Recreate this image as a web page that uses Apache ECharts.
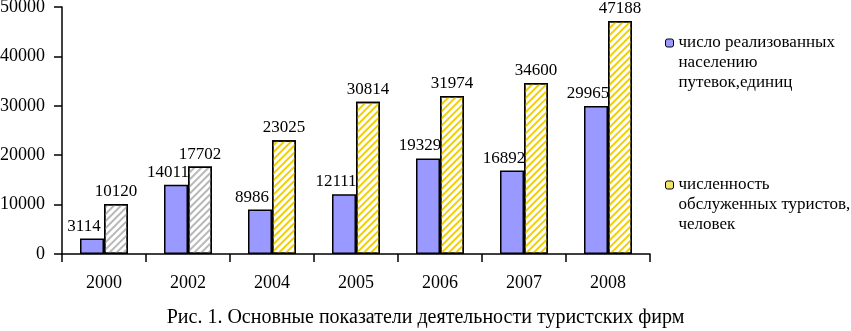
<!DOCTYPE html>
<html>
<head>
<meta charset="utf-8">
<script src="https://cdn.jsdelivr.net/npm/echarts@6/dist/echarts.min.js"></script>
<style>
  html, body { margin: 0; padding: 0; background: #fff; }
  #main { width: 851px; height: 331px; }
</style>
</head>
<body>
<div id="main"></div>
<script>
// данные
var years = ['2000', '2002', '2004', '2005', '2006', '2007', '2008'];
var putevki = [3114, 14011, 8986, 12111, 19329, 16892, 29965];
var turisty = [10120, 17702, 23025, 30814, 31974, 34600, 47188];
var seriesNames = [
    'число реализованных\nнаселению\nпутевок,единиц',
    'численность\nобслуженных туристов,\nчеловек'
];
var caption = 'Рис. 1. Основные показатели деятельности туристских фирм';

var serif = '"Liberation Serif", "DejaVu Serif", serif';

function hatch(color) {
    return {
        symbol: 'rect',
        symbolSize: 1,
        dashArrayX: [1, 0],
        dashArrayY: [2, 3],
        rotation: -Math.PI / 4,
        color: color
    };
}

function legendBox(name, top) {
    return {
        data: [name],
        orient: 'vertical',
        left: 665, top: top,
        padding: 0,
        itemWidth: 8, itemHeight: 8,
        itemStyle: { borderWidth: 1, borderColor: '#000' },
        // первая строка подписи — напротив значка
        formatter: function (n) { return '\n\n' + n; },
        textStyle: { fontFamily: serif, fontSize: 17, color: '#000', lineHeight: 20 }
    };
}

var myChart = echarts.init(document.getElementById('main'));

var option = {
    animation: false,
    title: {
        text: caption,
        left: 'center',
        top: 303,
        textStyle: { fontFamily: serif, fontSize: 20, fontWeight: 'normal', color: '#000' }
    },
    grid: { left: 62, right: 201, top: 7, bottom: 77, outerBoundsMode: 'none' },
    legend: [legendBox(seriesNames[0], -7), legendBox(seriesNames[1], 135)],
    xAxis: {
        type: 'category',
        data: years,
        axisLine: { lineStyle: { color: '#000', width: 1.5 } },
        axisTick: { show: true, length: 8, lineStyle: { color: '#000', width: 1.5 } },
        axisLabel: { color: '#000', fontFamily: serif, fontSize: 18, margin: 20 }
    },
    yAxis: {
        type: 'value',
        min: 0, max: 50000, interval: 10000,
        axisLine: { show: true, lineStyle: { color: '#000', width: 1.5 } },
        axisTick: { show: true, length: 8, lineStyle: { color: '#000', width: 1.5 } },
        splitLine: { show: false },
        axisLabel: {
            color: '#000', fontFamily: serif, fontSize: 18, margin: 17,
            formatter: function (v) { return String(v); }
        }
    },
    series: [{
        name: seriesNames[0],
        type: 'bar',
        barWidth: 24,
        barGap: '0%',
        data: putevki,
        itemStyle: { color: '#9999ff', borderColor: '#000', borderWidth: 1.5 },
        label: {
            show: true, position: 'top', offset: [-8, 0], distance: 4,
            color: '#000', fontFamily: serif, fontSize: 17
        }
    }, {
        name: seriesNames[1],
        type: 'bar',
        barWidth: 24,
        barGap: '0%',
        data: turisty.map(function (v, i) {
            return {
                value: v,
                itemStyle: { color: '#fff', decal: hatch(i < 2 ? '#b8b8b8' : '#f2cf00') }
            };
        }),
        itemStyle: { color: '#f5e46a', borderColor: '#000', borderWidth: 1.5 },
        label: {
            show: true, position: 'top', distance: 4,
            color: '#000', fontFamily: serif, fontSize: 17
        }
    }]
};

myChart.setOption(option);
</script>
</body>
</html>
